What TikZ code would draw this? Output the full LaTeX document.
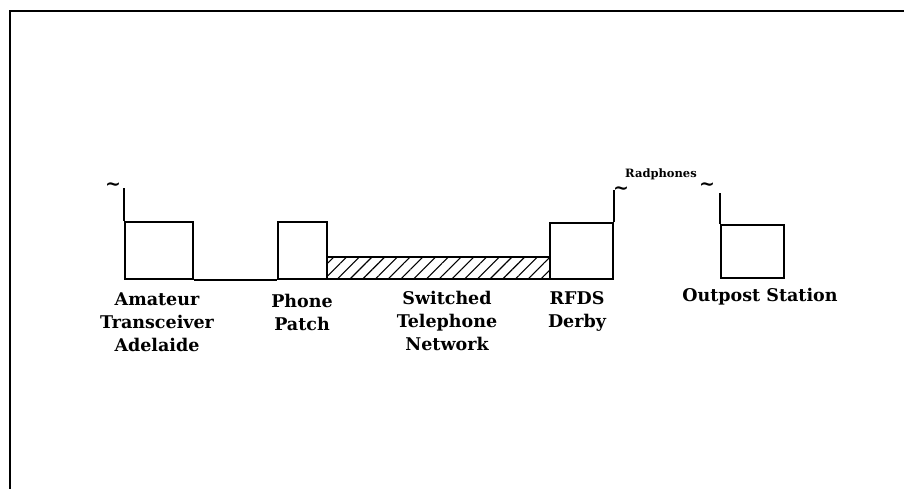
\documentclass[tikz,border=0pt]{standalone}
\usepackage{fontspec}
\setmainfont{DejaVu Serif}
\usetikzlibrary{positioning, patterns.meta}

\begin{document}
\begin{tikzpicture}[
    x=1pt, y=-1pt,
    block/.style={rectangle, draw, line width=2pt, anchor=south west, inner sep=0pt},
    hatch/.style={block, pattern={Lines[angle=45, distance=9pt, line width=1.1pt]}},
    txt/.style={anchor=north, align=center, inner sep=0pt, font=\fontsize{17.5}{23}\selectfont\bfseries},
    wave/.style={inner sep=0pt, font=\fontsize{19}{19}\selectfont\bfseries},
    line/.style={draw, line width=2pt}
]
\useasboundingbox (0,0) rectangle (904,489);

% frame
\path [line, line width=2.5pt] (904,11) -| (10,489);

\node [block, minimum width=68pt, minimum height=57pt] (ama) at (124,280) {};
\node [block, minimum width=49pt, minimum height=57pt] (patch) at (277,280) {};
\node [hatch, minimum width=223pt, minimum height=22pt] (net) at (326,280) {};
\node [block, minimum width=63pt, minimum height=56pt] (rfds) at (549,280) {};
\node [block, minimum width=63pt, minimum height=53pt] (post) at (720,279) {};

\coordinate [above=33pt of ama.north west] (amaant);
\coordinate [above=32pt of rfds.north east] (rfdsant);
\coordinate [above=31pt of post.north west] (postant);

\path [line] (ama.north west) -- (amaant);
\path [line] (rfds.north east) -- (rfdsant);
\path [line] (post.north west) -- (postant);
\path [line] (ama.south east) -- (patch.south west);

\node [wave] (amawave) at (113,187) {\textasciitilde};
\node [wave] (rfdswave) at (621,191) {\textasciitilde};
\node [wave] (postwave) at (707,187) {\textasciitilde};
\node [font=\fontsize{11.5}{11.5}\selectfont\bfseries, inner sep=0pt] (radph) at (661,174) {Radphones};

\node [txt] (amatxt) at (157,293) {Amateur\\Transceiver\\Adelaide};
\node [txt] (patchtxt) at (302,294) {Phone\\Patch};
\node [txt] (nettxt) at (447,291) {Switched\\Telephone\\Network};
\node [txt] (rfdstxt) at (577,291) {RFDS\\Derby};
\node [txt] (posttxt) at (760,288) {Outpost Station};

\end{tikzpicture}
\end{document}
